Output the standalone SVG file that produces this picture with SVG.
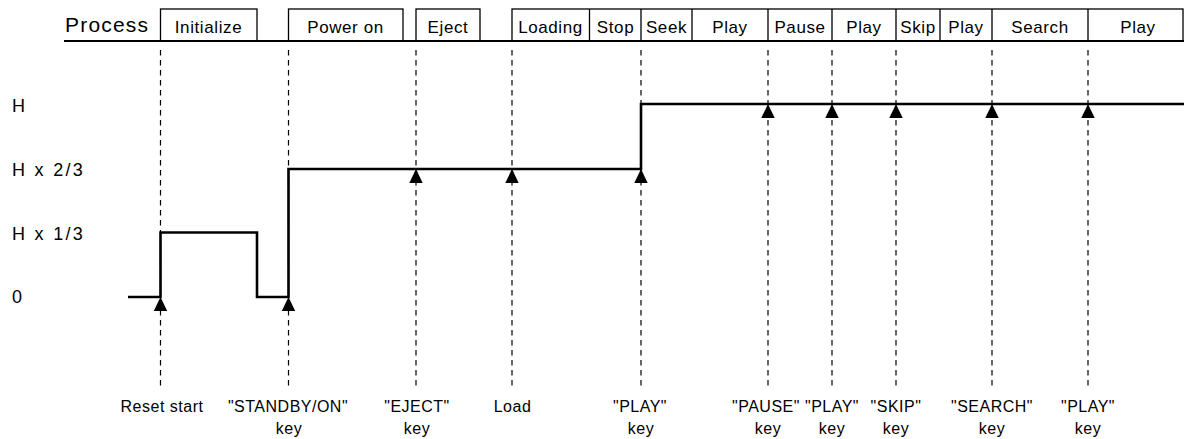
<svg xmlns="http://www.w3.org/2000/svg" width="1184" height="439" viewBox="0 0 1184 439">
<style>
text{font-family:"Liberation Sans",Arial,sans-serif;fill:#000}
.proc{font-size:21px;letter-spacing:1.2px}
.hd{font-size:17px;letter-spacing:0.6px;text-anchor:middle}
.lvl{font-size:18px;letter-spacing:2.3px}
.ev{font-size:16px;letter-spacing:0.5px;text-anchor:middle}
.box{fill:none;stroke:#000;stroke-width:1.3}
.dash{fill:none;stroke:#000;stroke-width:1.2;stroke-dasharray:5.5 4.5}
.sig{fill:none;stroke:#000;stroke-width:2.6;stroke-linejoin:miter}
.arr{fill:#000}
</style>
<defs>
<path id="tri" d="M0,0 L6.7,14 L-6.7,14 Z"/>
</defs>
<g id="header">
<text class="proc" x="65" y="32">Process</text>
<g class="box">
<rect x="160.5" y="9" width="96.5" height="32"/>
<rect x="288.5" y="9" width="114.5" height="32"/>
<rect x="416" y="9" width="64" height="32"/>
<rect x="512" y="9" width="671" height="32"/>
<path d="M589.5,9V41M641,9V41M692,9V41M768,9V41M832,9V41M896,9V41M940,9V41M992,9V41M1088,9V41"/>
</g>
<line x1="64" y1="41" x2="1184" y2="41" stroke="#000" stroke-width="2"/>
<text class="hd" x="208.5" y="32.5">Initialize</text>
<text class="hd" x="345.5" y="32.5">Power on</text>
<text class="hd" x="448" y="32.5">Eject</text>
<text class="hd" x="550.5" y="32.5">Loading</text>
<text class="hd" x="615.5" y="32.5">Stop</text>
<text class="hd" x="666.5" y="32.5">Seek</text>
<text class="hd" x="730" y="32.5">Play</text>
<text class="hd" x="800" y="32.5">Pause</text>
<text class="hd" x="864" y="32.5">Play</text>
<text class="hd" x="918" y="32.5">Skip</text>
<text class="hd" x="966" y="32.5">Play</text>
<text class="hd" x="1040" y="32.5">Search</text>
<text class="hd" x="1138" y="32.5">Play</text>
</g>
<g id="levels">
<text class="lvl" x="12" y="112">H</text>
<text class="lvl" x="12" y="176">H x 2/3</text>
<text class="lvl" x="12" y="240">H x 1/3</text>
<text class="lvl" x="12" y="303">0</text>
</g>
<g id="connectors">
<path class="dash" d="M160.5,50V386M288.5,50V386M416,50V386M512,50V386M641,50V386M768,50V386M832,50V386M896,50V386M992,50V386M1088,50V386"/>
<path class="sig" d="M128,297H160.5V232.5H257V297H288.5V169H641V104H1184"/>
<g class="arr">
<use href="#tri" x="160.5" y="297"/>
<use href="#tri" x="288.5" y="297"/>
<use href="#tri" x="416" y="169"/>
<use href="#tri" x="512" y="169"/>
<use href="#tri" x="641" y="169"/>
<use href="#tri" x="768" y="104"/>
<use href="#tri" x="832" y="104"/>
<use href="#tri" x="896" y="104"/>
<use href="#tri" x="992" y="104"/>
<use href="#tri" x="1088" y="104"/>
</g>
</g>
<g id="events">
<text class="ev" x="162" y="412">Reset start</text>
<text class="ev" x="288" y="412">"STANDBY/ON"</text>
<text class="ev" x="289" y="434">key</text>
<text class="ev" x="417" y="412">"EJECT"</text>
<text class="ev" x="417" y="434">key</text>
<text class="ev" x="512.5" y="412">Load</text>
<text class="ev" x="640" y="412">"PLAY"</text>
<text class="ev" x="641" y="434">key</text>
<text class="ev" x="766" y="412">"PAUSE"</text>
<text class="ev" x="768" y="434">key</text>
<text class="ev" x="832" y="412">"PLAY"</text>
<text class="ev" x="832" y="434">key</text>
<text class="ev" x="896" y="412">"SKIP"</text>
<text class="ev" x="896" y="434">key</text>
<text class="ev" x="992" y="412">"SEARCH"</text>
<text class="ev" x="992" y="434">key</text>
<text class="ev" x="1088" y="412">"PLAY"</text>
<text class="ev" x="1088" y="434">key</text>
</g>
</svg>
